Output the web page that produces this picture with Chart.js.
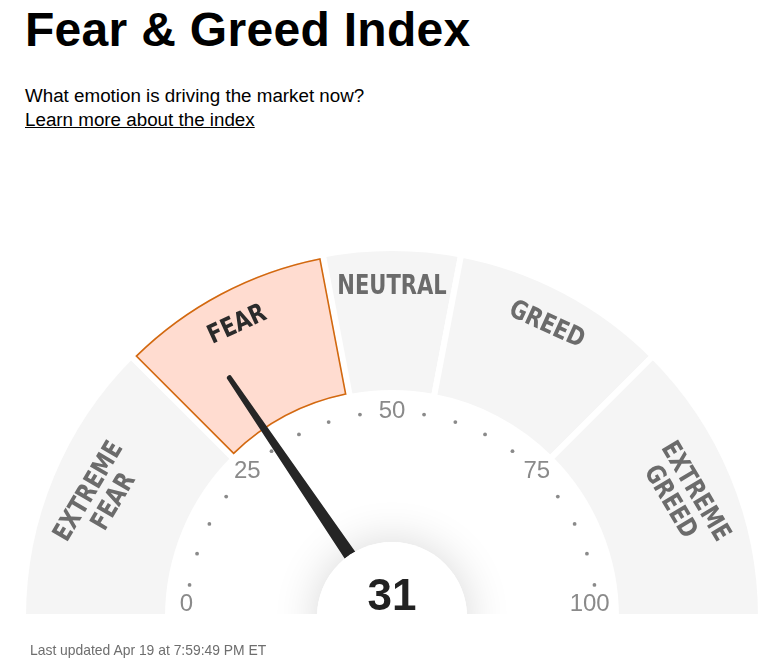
<!DOCTYPE html>
<html>
<head>
<meta charset="utf-8">
<script src="https://cdn.jsdelivr.net/npm/chart.js@4/dist/chart.umd.min.js"></script>
<style>
  html,body{margin:0;padding:0;background:#fff;width:773px;height:669px;overflow:hidden;}
  #wrap{position:relative;width:773px;height:669px;}
  #title{position:absolute;left:25px;top:2px;font-family:"Liberation Sans",Arial,sans-serif;font-weight:bold;font-size:48px;color:#000;letter-spacing:0.3px;margin:0;}
  #sub{position:absolute;left:25px;top:85px;font-family:"Liberation Sans",Arial,sans-serif;font-size:18.8px;color:#000;}
  #link{position:absolute;left:25px;top:109px;font-family:"Liberation Sans",Arial,sans-serif;font-size:18.8px;color:#000;text-decoration:underline;}
  #upd{position:absolute;left:30px;top:642px;font-family:"Liberation Sans",Arial,sans-serif;font-size:13.9px;color:#6e6e6e;}
  canvas{position:absolute;left:0;top:0;}
</style>
</head>
<body>
<div id="wrap">
  <div id="title">Fear &amp; Greed Index</div>
  <div id="sub">What emotion is driving the market now?</div>
  <div id="link">Learn more about the index</div>
  <canvas id="c" width="773" height="669"></canvas>
  <div id="upd">Last updated Apr 19 at 7:59:49 PM ET</div>
</div>
<script>
// ---- data ----
const categories = ["EXTREME FEAR", "FEAR", "NEUTRAL", "GREED", "EXTREME GREED"];
const bandWidths = [25, 19, 12, 19, 25];          // index range covered by each band, as drawn (0-100)
const tickLabels = [0, 25, 50, 75, 100];
const minorTicks = [5, 10, 15, 20, 30, 35, 40, 45, 55, 60, 65, 70, 80, 85, 90, 95];
const currentValue = 31;
const activeIndex = 1; // FEAR

const labelLines = categories.map(c => c.split(" "));
const GAP = 6; // white border between bands

const gaugePlugin = {
  id: 'gauge',
  afterDatasetsDraw(chart) {
    const ctx = chart.ctx;
    const meta = chart.getDatasetMeta(0);
    const arc0 = meta.data[0];
    const cx = arc0.x, cy = arc0.y;
    const R = arc0.outerRadius - GAP / 2;      // visible outer radius
    const total = bandWidths.reduce((a, b) => a + b, 0);
    const ang = v => Math.PI - (v / total) * Math.PI; // math angle
    const pt = (v, r) => [cx + r * Math.cos(ang(v)), cy - r * Math.sin(ang(v))];

    ctx.save();
    ctx.beginPath();
    ctx.rect(0, 0, chart.width, cy - GAP / 2);
    ctx.clip();

    // highlight outline of the active band (inset inside the white gap)
    const act = meta.data[activeIndex];
    const d = GAP / 2 + 0.75;
    const ro = act.outerRadius - d, ri = act.innerRadius + d;
    const s = act.startAngle, e = act.endAngle; // canvas angles
    ctx.beginPath();
    ctx.arc(cx, cy, ro, s + Math.asin(d / ro), e - Math.asin(d / ro), false);
    ctx.arc(cx, cy, ri, e - Math.asin(d / ri), s + Math.asin(d / ri), true);
    ctx.closePath();
    ctx.strokeStyle = '#d2690f';
    ctx.lineWidth = 1.6;
    ctx.lineJoin = 'miter';
    ctx.stroke();

    // band labels
    let acc = 0;
    categories.forEach((cat, i) => {
      const mid = acc + bandWidths[i] / 2;
      acc += bandWidths[i];
      const a = ang(mid);
      const lines = labelLines[i];
      const radii = lines.length === 1 ? [R * 0.905] : [R * 0.898, R * 0.824];
      ctx.fillStyle = i === activeIndex ? '#2b2b2b' : '#6b6b6b';
      ctx.font = 'bold 26px "DejaVu Sans Condensed", "DejaVu Sans", sans-serif';
      ctx.textAlign = 'center';
      ctx.textBaseline = 'middle';
      lines.forEach((ln, k) => {
        const r = radii[k];
        const x = cx + r * Math.cos(a), y = cy - r * Math.sin(a);
        ctx.save();
        ctx.translate(x, y);
        ctx.rotate((Math.PI / 2 - a) * 0.88);
        ctx.scale(0.9, 1);
        ctx.fillText(ln, 0, 1);
        ctx.restore();
      });
    });

    // minor dots
    ctx.fillStyle = '#8a8a8a';
    minorTicks.forEach(v => {
      const [x, y] = pt(v, R * 0.56);
      ctx.beginPath();
      ctx.arc(x, y, 1.9, 0, Math.PI * 2);
      ctx.fill();
    });
    // tick labels
    ctx.font = '24px "Liberation Sans", Arial, sans-serif';
    ctx.fillStyle = '#8a8a8a';
    ctx.textAlign = 'center';
    ctx.textBaseline = 'middle';
    tickLabels.forEach(v => {
      const s = String(v);
      const w = ctx.measureText(s).width;
      let [x, y] = pt(v, R * 0.562);
      const c = Math.cos(ang(v));
      x -= c * Math.max(0, w / 2 - 12) * Math.abs(c);
      y = Math.min(y, cy - 13);
      ctx.fillText(s, x, y);
    });

    // needle
    const a = ang(currentValue);
    const tipR = R * 0.79;
    const ux = Math.cos(a), uy = -Math.sin(a);
    const px = -uy, py = ux;
    const baseW = 7.6, tipW = 2.6;
    const tx = cx + ux * tipR, ty = cy + uy * tipR;
    ctx.fillStyle = '#262626';
    ctx.beginPath();
    ctx.moveTo(cx + px * baseW, cy + py * baseW);
    ctx.lineTo(tx + px * tipW, ty + py * tipW);
    ctx.arc(tx, ty, tipW, Math.atan2(py, px), Math.atan2(py, px) + Math.PI, true);
    ctx.lineTo(cx - px * baseW, cy - py * baseW);
    ctx.closePath();
    ctx.fill();

    // center disc with soft shadow
    ctx.shadowColor = 'rgba(0,0,0,0.16)';
    ctx.shadowBlur = 45;
    ctx.fillStyle = '#fff';
    ctx.beginPath();
    ctx.arc(cx, cy, R * 0.205, 0, Math.PI * 2);
    ctx.fill();
    ctx.shadowBlur = 0;
    ctx.shadowColor = 'transparent';
    ctx.beginPath();
    ctx.arc(cx, cy, R * 0.205, 0, Math.PI * 2);
    ctx.fill();

    ctx.fillStyle = '#222';
    ctx.font = 'bold 44px "Liberation Sans", Arial, sans-serif';
    ctx.textAlign = 'center';
    ctx.textBaseline = 'alphabetic';
    ctx.fillText(String(currentValue), cx, cy - 7);
    ctx.restore();
  }
};

new Chart(document.getElementById('c'), {
  type: 'doughnut',
  data: {
    labels: categories,
    datasets: [{
      data: bandWidths,
      backgroundColor: bandWidths.map((_, i) => i === activeIndex ? '#ffdcd0' : '#f5f5f5'),
      borderColor: '#ffffff',
      borderWidth: GAP,
      borderAlign: 'center',
      borderJoinStyle: 'miter'
    }]
  },
  options: {
    responsive: false,
    animation: false,
    rotation: -90,
    circumference: 180,
    cutout: '60.7%',
    radius: 369,
    layout: { padding: { left: 23, right: 12, top: 248, bottom: 52 } },
    plugins: { legend: { display: false }, tooltip: { enabled: false } },
    events: []
  },
  plugins: [gaugePlugin]
});
</script>
</body>
</html>
